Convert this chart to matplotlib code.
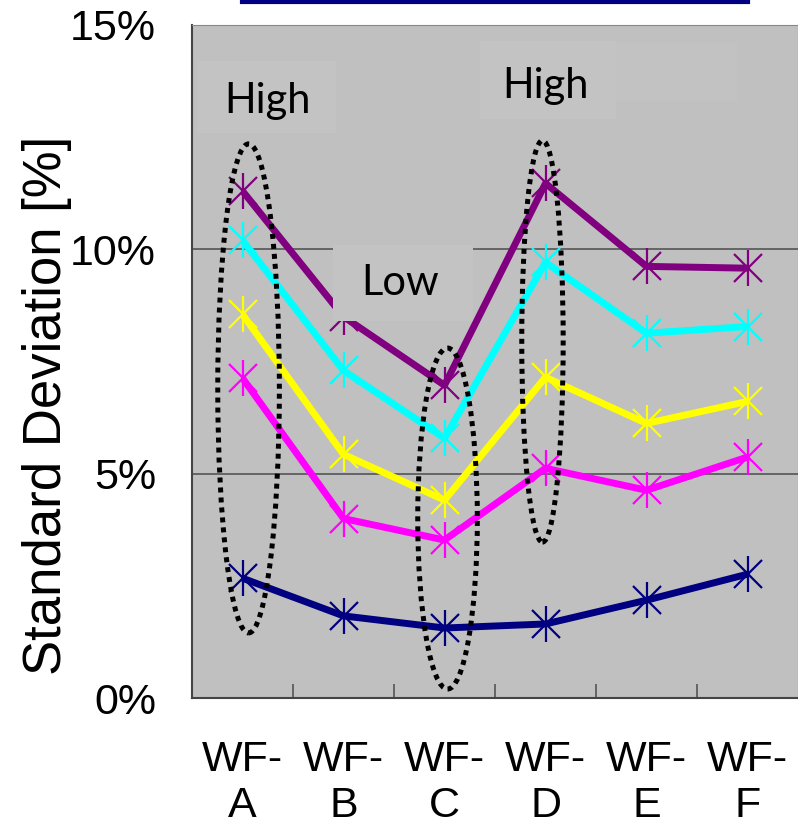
import matplotlib
matplotlib.use("Agg")
import matplotlib.pyplot as plt
from matplotlib.patches import Ellipse, Rectangle
from matplotlib.lines import Line2D

categories = ["WF-\nA", "WF-\nB", "WF-\nC", "WF-\nD", "WF-\nE", "WF-\nF"]
purple = [11.3, 8.5, 6.97, 11.47, 9.62, 9.58]
cyan = [10.2, 7.3, 5.79, 9.71, 8.13, 8.28]
yellow = [8.55, 5.43, 4.41, 7.15, 6.12, 6.61]
magenta = [7.13, 4.0, 3.52, 5.12, 4.63, 5.37]
navy = [2.67, 1.83, 1.56, 1.65, 2.18, 2.76]

series = [(purple, "#800080"), (cyan, "#00FFFF"), (yellow, "#FFFF00"),
          (magenta, "#FF00FF"), (navy, "#000080")]

plt.rcParams["font.family"] = ["Liberation Sans", "DejaVu Sans"]

fig = plt.figure(figsize=(7.98, 8.35), dpi=100)
ax = fig.add_axes([192 / 798, 137 / 835, 606 / 798, 673 / 835])
ax.set_facecolor("#C0C0C0")

x = list(range(len(categories)))

# soft label boxes behind the annotations
ax.add_patch(Rectangle((-0.45, 12.6), 1.38, 1.6, facecolor="#C3C3C3", edgecolor="none", zorder=1))
ax.add_patch(Rectangle((2.35, 12.9), 1.35, 1.75, facecolor="#C3C3C3", edgecolor="none", zorder=1))
ax.add_patch(Rectangle((3.7, 13.3), 1.2, 1.3, facecolor="#C2C2C2", edgecolor="none", zorder=1))
ax.add_patch(Rectangle((0.9, 8.4), 1.38, 1.7, facecolor="#C3C3C3", edgecolor="none", zorder=4))

for vals, col in series:
    ax.plot(x, vals, color=col, lw=5, zorder=3, solid_capstyle="butt")
    ax.plot(x, vals, ls="none", marker="x", ms=20, mew=1.6, color=col, zorder=3)
    ax.plot(x, vals, ls="none", marker="|", ms=26, mew=1.6, color=col, zorder=3)

ax.add_patch(Ellipse((0.06, 6.9), 0.61, 10.9, fill=False, edgecolor="black",
                     lw=3.6, ls=(0, (1, 1)), zorder=5))
ax.add_patch(Ellipse((2.03, 4.0), 0.59, 7.6, fill=False, edgecolor="black",
                     lw=3.6, ls=(0, (1, 1)), zorder=5))
ax.add_patch(Ellipse((2.97, 7.95), 0.41, 8.95, fill=False, edgecolor="black",
                     lw=3.6, ls=(0, (1, 1)), zorder=5))

ax.text(0.25, 13.3, "High", fontsize=30, family=["Lato", "DejaVu Sans"], ha="center", va="center", zorder=6)
ax.text(3.0, 13.65, "High", fontsize=30, family=["Lato", "DejaVu Sans"], ha="center", va="center", zorder=6)
ax.text(1.56, 9.25, "Low", fontsize=30, family=["Lato", "DejaVu Sans"], ha="center", va="center", zorder=6)

ax.set_xlim(-0.5, 5.5)
ax.set_ylim(0, 15)
ax.set_yticks([0, 5, 10, 15])
ax.set_yticklabels(["0%", "5%", "10%", "15%"], fontsize=31)
ax.yaxis.grid(True, color="#555555", lw=1.2)
ax.set_axisbelow(True)

ax.set_xticks(x)
ax.set_xticklabels(categories, fontsize=31, linespacing=1.2)
ax.set_xticks([i + 0.5 for i in range(5)], minor=True)
ax.tick_params(axis="x", which="major", length=0, pad=30)
ax.tick_params(axis="x", which="minor", direction="in", length=10, width=1.2, color="#555555")
ax.tick_params(axis="y", length=0, pad=26)

for s in ["left", "bottom"]:
    ax.spines[s].set_color("#444444")
    ax.spines[s].set_linewidth(1.5)
for s in ["top", "right"]:
    ax.spines[s].set_color("#888888")

ax.set_ylabel("Standard Deviation [%]", fontsize=38)
ax.yaxis.set_label_coords(-0.198, 0.435)

fig.add_artist(Line2D([242 / 798, 748 / 798], [1 - 2 / 835, 1 - 2 / 835],
                      color="#000080", lw=3))

plt.savefig("out.png", dpi=100)
